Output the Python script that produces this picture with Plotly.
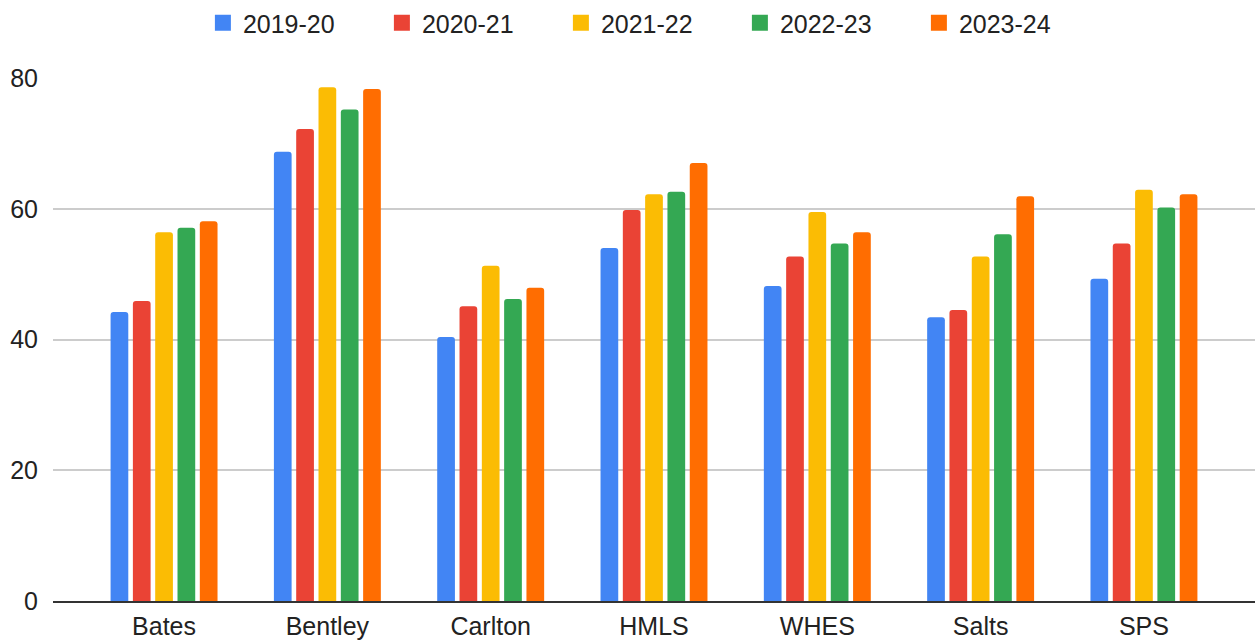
import plotly.graph_objects as go

schools = ["Bates", "Bentley", "Carlton", "HMLS", "WHES", "Salts", "SPS"]
years = ["2019-20", "2020-21", "2021-22", "2022-23", "2023-24"]
colors = ["#4285F4", "#EA4335", "#FBBC04", "#34A853", "#FF6D01"]

v_2019_20 = [44.2, 68.7, 40.4, 54.0, 48.2, 43.4, 49.3]
v_2020_21 = [45.9, 72.2, 45.1, 59.8, 52.7, 44.5, 54.7]
v_2021_22 = [56.4, 78.6, 51.3, 62.2, 59.5, 52.7, 62.9]
v_2022_23 = [57.1, 75.2, 46.2, 62.6, 54.7, 56.1, 60.2]
v_2023_24 = [58.1, 78.3, 47.9, 67.0, 56.4, 61.9, 62.2]
series = [v_2019_20, v_2020_21, v_2021_22, v_2022_23, v_2023_24]

y_ticks = [0, 20, 40, 60, 80]

FONT = "Liberation Sans, Arial, sans-serif"

fig = go.Figure()
for name, vals, col in zip(years, series, colors):
    fig.add_trace(go.Bar(x=schools, y=vals, name=name, showlegend=False, legendgroup=name,
                         marker=dict(color=col, line=dict(width=0))))
# legend entries with larger square swatches
for name, col in zip(years, colors):
    fig.add_trace(go.Scatter(x=[None], y=[None], mode="markers", name=name, legendgroup=name,
                             marker=dict(symbol="square", size=16, color=col), hoverinfo="skip"))

fig.update_layout(
    width=1257, height=641,
    barmode="group", bargap=0.317, bargroupgap=0.206, barcornerradius=3,
    plot_bgcolor="white", paper_bgcolor="white",
    margin=dict(l=53, r=2, t=78, b=40, autoexpand=False),
    font=dict(family=FONT, size=25, color="#222222"),
    legend=dict(orientation="h", x=0.497, xanchor="center", xref="paper", y=1.0, yref="container",
                yanchor="top", font=dict(size=25, color="#222222"), entrywidth=134, entrywidthmode="pixels",
                itemclick=False, itemdoubleclick=False),
    showlegend=True,
)
fig.update_xaxes(range=[-0.68, 6.68], showgrid=False, showline=True, linecolor="#333333", linewidth=2,
                 ticks="", ticklabelstandoff=2, tickfont=dict(size=25, color="#222222"), fixedrange=True,
                 automargin=False)
fig.update_yaxes(range=[0, 80], tickvals=y_ticks, showgrid=True, gridcolor="#cccccc", gridwidth=1.5,
                 zeroline=False, showline=False, ticks="", ticklabelstandoff=14,
                 tickfont=dict(size=25, color="#222222"), fixedrange=True, automargin=False)

fig.write_html("out.html", config={"displayModeBar": False},
               post_script="document.body.style.margin='0';document.body.style.overflow='hidden';")
